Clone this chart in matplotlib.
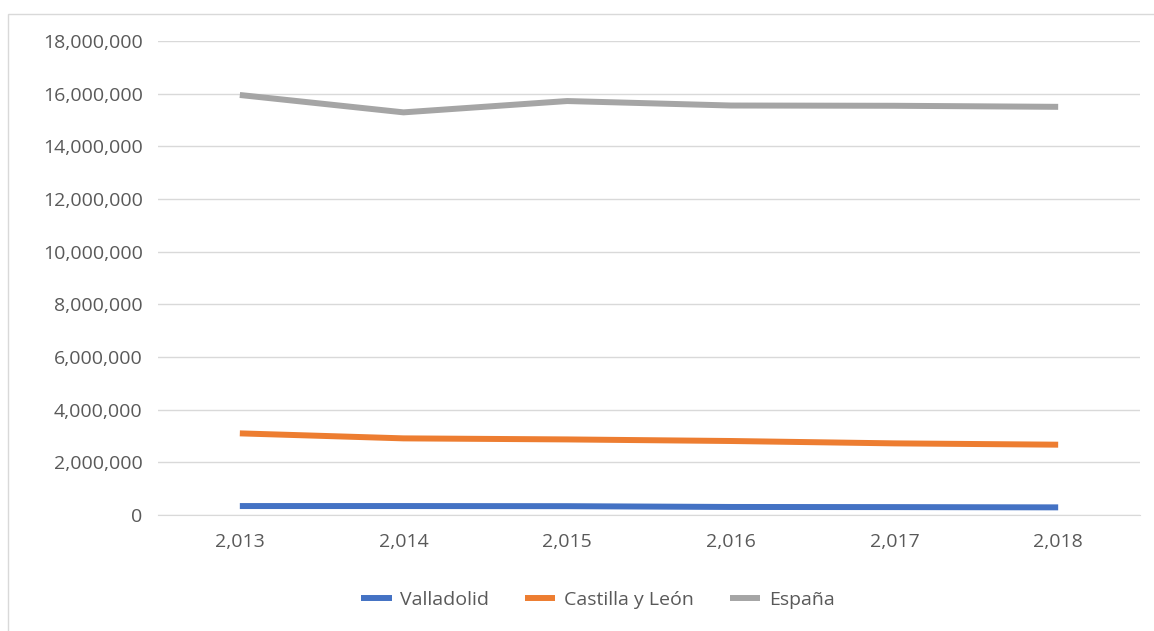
import matplotlib
matplotlib.use("Agg")
import matplotlib.pyplot as plt
from matplotlib.ticker import FuncFormatter
from matplotlib.patches import Rectangle

years = ["2,013", "2,014", "2,015", "2,016", "2,017", "2,018"]
valladolid = [340000, 340000, 335000, 305000, 300000, 290000]
castilla = [3100000, 2910000, 2870000, 2810000, 2720000, 2670000]
espana = [15950000, 15290000, 15720000, 15550000, 15540000, 15500000]

series_names = ["Valladolid", "Castilla y León", "España"]
colors = ["#4472C4", "#ED7D31", "#A5A5A5"]

plt.rcParams['font.family'] = ['Open Sans', 'DejaVu Sans']
FS = 14

W, H = 1154, 631
fig = plt.figure(figsize=(W / 100, H / 100), dpi=100)
fig.patches.append(Rectangle((8 / W, -20 / H), (W + 20) / W, (H - 14 + 20) / H,
                             transform=fig.transFigure, fill=False,
                             edgecolor="#D9D9D9", linewidth=1))
ax = fig.add_axes([158 / W, 1 - 515 / H, (1140 - 158) / W, (515 - 41) / H])

x = list(range(len(years)))
for name, vals, c in zip(series_names, [valladolid, castilla, espana], colors):
    ax.plot(x, vals, color=c, linewidth=4.3, label=name, solid_capstyle='butt', zorder=3)

ax.set_xlim(-0.5, len(years) - 0.5)
ax.set_ylim(0, 18000000)
ax.set_yticks(range(0, 18000001, 2000000))
ax.yaxis.set_major_formatter(FuncFormatter(lambda v, p: f"{int(v):,}"))
ax.set_xticks(x)
ax.set_xticklabels(years)
ax.grid(axis='y', color="#D9D9D9", linewidth=1)
ax.set_axisbelow(True)
for s in ["top", "right", "left"]:
    ax.spines[s].set_visible(False)
ax.spines["bottom"].set_color("#D9D9D9")
ax.tick_params(axis='both', length=0, colors="#595959", labelsize=FS)
ax.tick_params(axis='y', pad=11)
ax.tick_params(axis='x', pad=13)

leg = fig.legend(*ax.get_legend_handles_labels(), loc='center',
                 bbox_to_anchor=(598 / W, 1 - 600 / H), ncol=3, frameon=False,
                 fontsize=FS, handlelength=1.55, columnspacing=1.85, handletextpad=0.45)
for t in leg.get_texts():
    t.set_color("#595959")

fig.savefig("out.png", dpi=100, facecolor="white")
